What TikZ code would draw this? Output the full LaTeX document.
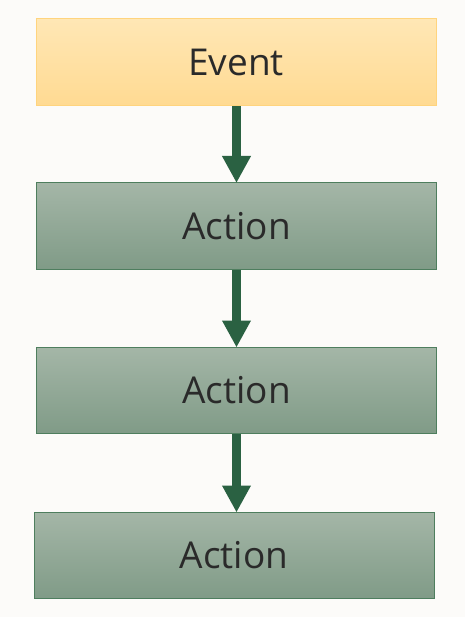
\documentclass[tikz,border=0pt]{standalone}
\usepackage{fontspec}
\setmainfont{Open Sans}
\usetikzlibrary{arrows.meta}
\definecolor{bgc}{HTML}{FCFBF9}
\definecolor{evtop}{HTML}{FFE7B5}
\definecolor{evbot}{HTML}{FFDA92}
\definecolor{evdraw}{HTML}{FFD47E}
\definecolor{actop}{HTML}{A4B6A7}
\definecolor{acbot}{HTML}{809B87}
\definecolor{acdraw}{HTML}{4E7E5E}
\definecolor{arr}{HTML}{2A6142}
\definecolor{txt}{HTML}{2A2A2A}
\tikzset{
  box/.style={minimum width=400pt, inner sep=0pt, text=txt, font=\fontsize{37}{40}\selectfont},
  eventbox/.style={box, minimum height=87pt, top color=evtop, bottom color=evbot, draw=evdraw, line width=1pt},
  actionbox/.style={box, minimum height=86pt, top color=actop, bottom color=acbot, draw=acdraw, line width=1pt},
  flow/.style={draw=arr, line width=9pt, -{Triangle[width=27pt,length=27pt]}, shorten >=-0.5pt}
}
\begin{document}
\begin{tikzpicture}[x=1pt,y=1pt]
\useasboundingbox[fill=bgc] (0,0) rectangle (465,-617);
\node[eventbox] (e) at (236,-62.5) {Event};
\node[actionbox] (a1) at (236.5,-226) {Action};
\node[actionbox] (a2) at (236.5,-390.5) {Action};
\node[actionbox] (a3) at (234,-555.5) {Action};
\draw[flow] (e.south -| a1.north) -- (a1.north);
\draw[flow] (a1.south) -- (a2.north);
\draw[flow] (a2.south) -- (a2.south |- a3.north);
\end{tikzpicture}
\end{document}
